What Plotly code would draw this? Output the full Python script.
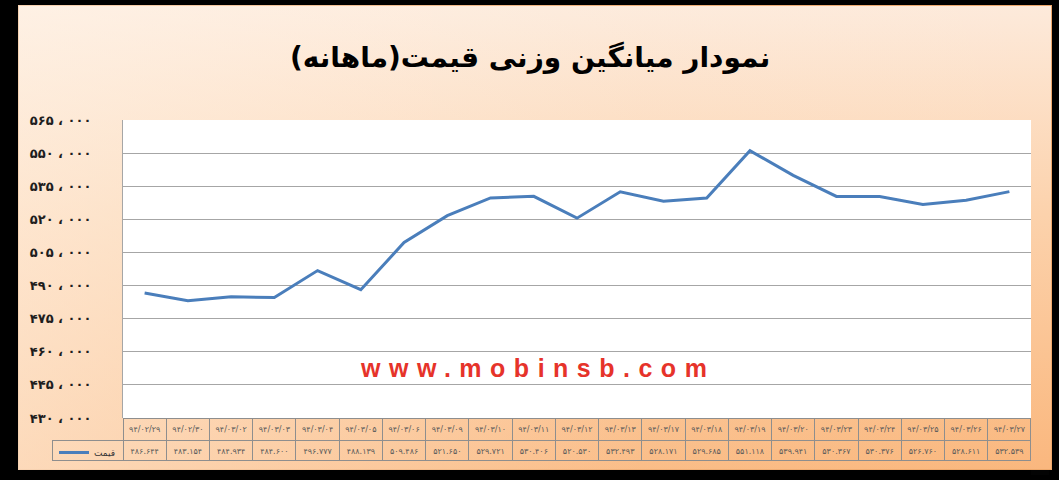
import plotly.graph_objects as go

# ---- data ----
dates = ["94/02/29", "94/02/30", "94/03/02", "94/03/03", "94/03/04", "94/03/05",
         "94/03/06", "94/03/09", "94/03/10", "94/03/11", "94/03/12", "94/03/13",
         "94/03/17", "94/03/18", "94/03/19", "94/03/20", "94/03/23", "94/03/24",
         "94/03/25", "94/03/26", "94/03/27"]
prices = [486644, 483154, 484934, 484600, 496777, 488139, 509486, 521650, 529721,
          530406, 520530, 532493, 528171, 529685, 551118, 539941, 530367, 530376,
          526760, 528611, 532539]
series_name = "قیمت"
title_text = "نمودار میانگین وزنی قیمت(ماهانه)"
watermark = "www.mobinsb.com"
y_ticks = list(range(430000, 565001, 15000))

FA = str.maketrans("0123456789", "۰۱۲۳۴۵۶۷۸۹")
dates_fa = [d.translate(FA) for d in dates]
prices_fa = [f"{v // 1000}.{v % 1000:03d}".translate(FA) for v in prices]
y_ticktext = [f"{t // 1000} ، 000".translate(FA) for t in y_ticks]

W, H = 1059, 480
def px(x):
    return x / W
def py(y):
    return 1 - y / H

fig = go.Figure()

# background panel gradient (subplot x/y)
fig.add_trace(go.Scatter(
    x=[0, 1, 1, 0, 0], y=[0, 0, 1, 1, 0], mode="lines", fill="toself",
    line=dict(color="#EDA76B", width=2),
    fillgradient=dict(type="vertical",
                      colorscale=[[0, "#FAB77D"], [0.55, "#FCD2AC"], [1, "#FDEADB"]]),
    hoverinfo="skip", showlegend=False, xaxis="x", yaxis="y"))
fig.add_trace(go.Scatter(
    x=[0, 1, 1, 0, 0], y=[0, 0, 1, 1, 0], mode="lines", fill="toself",
    line=dict(width=0),
    fillgradient=dict(type="horizontal",
                      colorscale=[[0, "rgba(255,246,236,0.55)"], [0.6, "rgba(255,246,236,0.1)"],
                                  [1, "rgba(255,246,236,0)"]]),
    hoverinfo="skip", showlegend=False, xaxis="x", yaxis="y"))

# data line
fig.add_trace(go.Scatter(
    x=dates_fa, y=prices, mode="lines", name=series_name,
    line=dict(color="#4A7EBB", width=3),
    xaxis="x2", yaxis="y2"))

# data table
fig.add_trace(go.Table(
    domain=dict(x=[px(52), px(1031)], y=[0.01, py(418)]),
    columnwidth=[71] + [43.2] * len(dates_fa),
    header=dict(values=[""] + dates_fa, height=22,
                fill=dict(color="rgba(0,0,0,0)"),
                line=dict(color=["rgba(0,0,0,0)"] + ["#8E8E8E"] * len(dates_fa), width=1),
                font=dict(family="DejaVu Sans", size=8, color="#5A5A5A"), align="center"),
    cells=dict(values=[[""]] + [[p] for p in prices_fa], height=20,
               fill=dict(color="rgba(0,0,0,0)"),
               line=dict(color="#8E8E8E", width=1),
               font=dict(family="DejaVu Sans", size=8, color="#5A5A5A"), align="center"),
))

fig.update_layout(
    width=W, height=H, margin=dict(l=0, r=0, t=0, b=0, pad=0, autoexpand=False),
    paper_bgcolor="black", plot_bgcolor="white",
    xaxis=dict(domain=[px(18), px(1052)], range=[0, 1], visible=False, fixedrange=True),
    yaxis=dict(domain=[py(470), py(5)], range=[0, 1], visible=False, fixedrange=True),
    xaxis2=dict(domain=[px(123), px(1031)], anchor="y2", type="category",
                range=[-0.5, len(dates_fa) - 0.5], showticklabels=False,
                showgrid=False, zeroline=False, showline=False),
    yaxis2=dict(domain=[py(418), py(120)], anchor="x2", range=[y_ticks[0], y_ticks[-1]],
                tickvals=y_ticks, ticktext=y_ticktext, ticks="", ticklabelstandoff=28,
                tickfont=dict(family="DejaVu Sans", size=13, color="#1E1E1E", weight=700),
                showgrid=True, gridcolor="#A6A6A6", gridwidth=1, zeroline=False,
                showline=True, linecolor="#A6A6A6", linewidth=1),
    showlegend=True,
    legend=dict(x=px(54), y=py(438), xanchor="left", yanchor="top",
                bgcolor="rgba(0,0,0,0)", borderwidth=0,
                font=dict(family="DejaVu Sans", size=9, color="#333333")),
    annotations=[
        dict(text="<b>" + title_text + "\u200f</b>", x=px(530), y=py(57), xref="paper", yref="paper",
             showarrow=False, xanchor="center", yanchor="middle",
             font=dict(family="DejaVu Sans", size=28, color="black")),
        dict(text="<span style='letter-spacing:8.5px'><b>" + watermark + "</b></span>",
             x=px(537), y=py(368), xref="paper", yref="paper", showarrow=False,
             xanchor="center", yanchor="middle",
             font=dict(family="Liberation Sans", size=25, color="#E6332A")),
    ],
)

post = (
    "document.documentElement.style.margin='0';"
    "document.documentElement.style.overflow='hidden';"
    "document.body.style.margin='0';"
    "document.body.style.overflow='hidden';"
    "var gd=document.getElementById('{plot_id}');"
    "gd.style.position='fixed';gd.style.left='0px';gd.style.top='0px';"
)
fig.write_html("out.html", config={"displayModeBar": False}, post_script=post)
